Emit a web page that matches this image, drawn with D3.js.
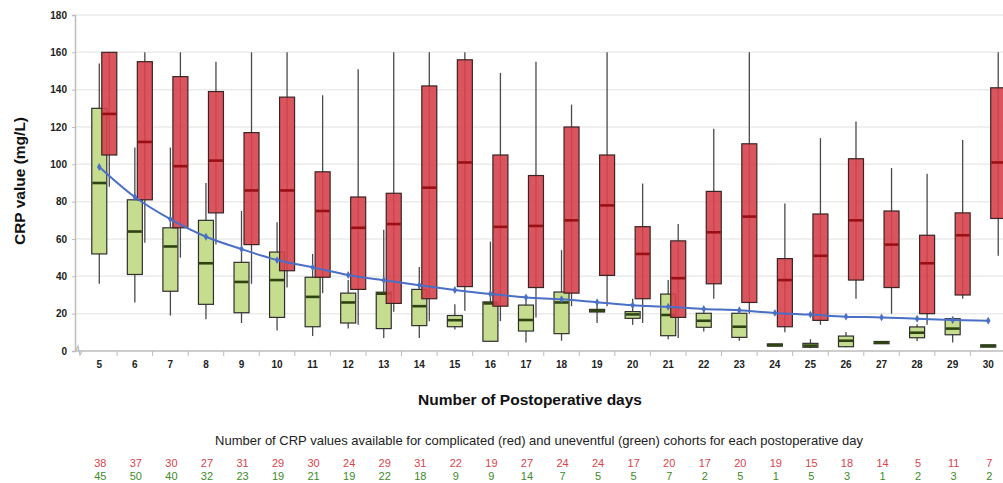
<!DOCTYPE html>
<html>
<head>
<meta charset="utf-8">
<script src="https://cdn.jsdelivr.net/npm/d3@7"></script>
<style>
  body { margin: 0; background: #fff; }
  svg { display: block; font-family: "Liberation Sans", Arial, sans-serif; }
</style>
</head>
<body>
<div id="chart"></div>
<script>
// postoperative days
var days = [5,6,7,8,9,10,11,12,13,14,15,16,17,18,19,20,21,22,23,24,25,26,27,28,29,30];

// uneventful cohort (green): [min, q1, median, q3, max]
var greenBoxes = [
    [36, 52, 90, 130, 154], [26, 41, 64, 81, 109], [19, 32, 56, 66, 109], [17, 25, 47, 70, 90],
    [15, 20.5, 37, 47.5, 75], [11, 18, 38, 53, 69], [8, 13, 29, 39.5, 52], [12, 15, 26, 31, 38],
    [7, 12, 30.7, 31.5, 65], [7, 13.6, 24, 33, 45], [11.5, 13, 16.5, 19, 25], [5, 5.2, 25.5, 26.3, 58.6],
    [4.5, 10.7, 16.6, 24.6, 30], [5.5, 9.3, 26, 31.6, 54], [15, 20.9, 21.6, 22.3, 27], [14, 17.5, 19.6, 21.1, 28],
    [6.3, 8.2, 19.3, 30.5, 38], [10.4, 12.7, 16.2, 20.2, 23], [5.5, 7.3, 13, 20.2, 22.5], [3.2, 2.6, 3.2, 3.8, 3.2],
    [1.5, 2, 2.9, 4.1, 6.3], [2, 2.3, 5.5, 8, 10.2], [4.5, 3.9, 4.5, 5.1, 4.5], [5.4, 7.1, 9.8, 12.9, 14.3],
    [4.5, 8.7, 12, 17.3, 18.4], [2.7, 2.1, 2.7, 3.3, 2.7]
];

// complicated cohort (red): [min, q1, median, q3, max]
var redBoxes = [
    [88, 105, 127, 160, 160], [58, 81, 112, 155, 160], [50, 66, 99, 147, 160], [57, 74, 102, 139, 155],
    [36, 57, 86, 117, 160], [34, 43, 86, 136, 160], [31, 39.5, 75, 96, 137], [14, 33, 66, 82.5, 151],
    [21, 25.5, 68, 84.5, 160], [16, 28, 87.5, 142, 160], [21.6, 34.5, 101, 156, 160], [16, 24, 66.5, 105, 149],
    [18, 34, 67, 94, 155], [24, 31, 70, 120, 132], [24, 40.5, 78, 105, 160], [15, 28, 52, 66.6, 89.7],
    [7, 18, 39, 59, 68], [28, 36, 63.6, 85.5, 119], [20, 26, 72, 111, 160], [10, 13, 38, 49.5, 79],
    [14, 16.4, 51, 73.4, 114], [28, 38, 70, 103, 123], [20, 34, 57, 75, 98], [14, 20, 47, 62, 95],
    [28, 30, 62, 74, 113], [51, 71, 101, 141, 160]
];

// fitted trend (blue)
var trend = [98.6, 82.5, 70.6, 61.2, 54.6, 48.7, 44.8, 40.7, 37.9, 35.2, 32.7, 30.5, 28.7, 27.7,
    26.1, 24.5, 23.7, 22.5, 21.8, 20.4, 19.5, 18.4, 18.0, 17.3, 16.6, 16.2];

// counts per day
var redCounts = [38,37,30,27,31,29,30,24,29,31,22,19,27,24,24,17,20,17,20,19,15,18,14,5,11,7];
var greenCounts = [45,50,40,32,23,19,21,19,22,18,9,9,14,7,5,5,7,2,5,1,5,3,1,2,3,2];

var yTicks = [0, 20, 40, 60, 80, 100, 120, 140, 160, 180];

var width = 1003, height = 483;

var svg = d3.select("#chart").append("svg")
    .attr("width", width)
    .attr("height", height);

var x = d3.scaleBand()
    .domain(days)
    .range([81.5, 1006])
    .padding(0);

var y = d3.scaleLinear()
    .domain([0, 180])
    .range([351, 15]);

var boxW = 15;
var redOffset = 10;

// gridlines
svg.append("g")
    .selectAll("line")
    .data(yTicks.filter(function(d) { return d > 0; }))
    .enter().append("line")
    .attr("x1", 76).attr("x2", width)
    .attr("y1", function(d) { return y(d); })
    .attr("y2", function(d) { return y(d); })
    .attr("stroke", "#ebebeb")
    .attr("stroke-width", 1.5);

// y axis
var yAxis = svg.append("g")
    .attr("transform", "translate(75,0)")
    .call(d3.axisLeft(y).tickValues(yTicks).tickSize(3).tickPadding(5));
yAxis.select(".domain").attr("stroke", "#bdbdbd").attr("stroke-width", 1.5);
yAxis.selectAll(".tick line").attr("stroke", "#bdbdbd");
yAxis.selectAll(".tick text")
    .attr("fill", "#222")
    .style("font-size", "10px")
    .style("font-weight", "bold");

// x axis
var xAxis = svg.append("g")
    .attr("transform", "translate(0,351)")
    .call(d3.axisBottom(x).tickSize(0).tickPadding(10));
xAxis.select(".domain").remove();
xAxis.selectAll(".tick text")
    .attr("fill", "#222")
    .style("font-size", "10px")
    .style("font-weight", "bold");

svg.append("line")
    .attr("x1", 75).attr("x2", width)
    .attr("y1", 351).attr("y2", 351)
    .attr("stroke", "#bdbdbd")
    .attr("stroke-width", 1.5);

// tick marks between categories
svg.append("g")
    .selectAll("line")
    .data(days)
    .enter().append("line")
    .attr("x1", function(d) { return x(d) + x.bandwidth(); })
    .attr("x2", function(d) { return x(d) + x.bandwidth(); })
    .attr("y1", 351).attr("y2", 356)
    .attr("stroke", "#bdbdbd");

// axis break mark
svg.append("path")
    .attr("d", "M76,351 L78,346 L80,355 L82,351")
    .attr("fill", "none")
    .attr("stroke", "#bdbdbd")
    .attr("stroke-width", 1.2);

function drawBoxes(data, offset, fill, stroke, medColor, opacity, cls) {
    var g = svg.append("g").attr("class", cls);
    var cx = function(i) { return x(days[i]) + x.bandwidth() / 2 + offset; };

    var grp = g.selectAll("g")
        .data(data)
        .enter().append("g");

    grp.append("line")
        .attr("x1", function(d, i) { return cx(i); })
        .attr("x2", function(d, i) { return cx(i); })
        .attr("y1", function(d) { return y(d[0]); })
        .attr("y2", function(d) { return y(d[4]); })
        .attr("stroke", "#4a4a4a")
        .attr("stroke-width", 1.3);

    grp.append("rect")
        .attr("x", function(d, i) { return cx(i) - boxW / 2; })
        .attr("width", boxW)
        .attr("y", function(d) { return y(d[3]); })
        .attr("height", function(d) { return Math.max(y(d[1]) - y(d[3]), 1); })
        .attr("fill", fill)
        .attr("fill-opacity", opacity)
        .attr("stroke", stroke)
        .attr("stroke-width", 1.2);

    grp.append("line")
        .attr("x1", function(d, i) { return cx(i) - boxW / 2 + 0.5; })
        .attr("x2", function(d, i) { return cx(i) + boxW / 2 - 0.5; })
        .attr("y1", function(d) { return y(d[2]); })
        .attr("y2", function(d) { return y(d[2]); })
        .attr("stroke", medColor)
        .attr("stroke-width", 2.6);
}

drawBoxes(greenBoxes, 0, "#c6dc8f", "#2f2f2f", "#2e4312", 1, "green");
drawBoxes(redBoxes, redOffset, "#d6434b", "#3b2424", "#9b0f14", 0.9, "red");

// trend line
var line = d3.line()
    .x(function(d, i) { return x(days[i]) + x.bandwidth() / 2; })
    .y(function(d) { return y(d); })
    .curve(d3.curveMonotoneX);

svg.append("path")
    .datum(trend)
    .attr("d", line)
    .attr("fill", "none")
    .attr("stroke", "#4a6fc6")
    .attr("stroke-width", 2);

svg.append("g")
    .selectAll("path")
    .data(trend)
    .enter().append("path")
    .attr("d", d3.symbol().type(d3.symbolDiamond).size(18))
    .attr("transform", function(d, i) {
        return "translate(" + (x(days[i]) + x.bandwidth() / 2) + "," + y(d) + ")";
    })
    .attr("fill", "#4a6fc6");

// axis titles
svg.append("text")
    .attr("transform", "translate(25,181) rotate(-90)")
    .attr("text-anchor", "middle")
    .style("font-size", "15.5px")
    .style("font-weight", "bold")
    .attr("fill", "#111")
    .text("CRP value (mg/L)");

svg.append("text")
    .attr("x", 530).attr("y", 405)
    .attr("text-anchor", "middle")
    .style("font-size", "15.5px")
    .style("font-weight", "bold")
    .attr("fill", "#111")
    .text("Number of Postoperative days");

svg.append("text")
    .attr("x", 539).attr("y", 445)
    .attr("text-anchor", "middle")
    .style("font-size", "13px")
    .attr("fill", "#222")
    .text("Number of CRP values available for complicated (red) and uneventful (green) cohorts for each postoperative day");

// counts
svg.append("g")
    .selectAll("text")
    .data(redCounts)
    .enter().append("text")
    .attr("x", function(d, i) { return x(days[i]) + x.bandwidth() / 2 + 1; })
    .attr("y", 467)
    .attr("text-anchor", "middle")
    .style("font-size", "11px")
    .attr("fill", "#d9434b")
    .text(function(d) { return d; });

svg.append("g")
    .selectAll("text")
    .data(greenCounts)
    .enter().append("text")
    .attr("x", function(d, i) { return x(days[i]) + x.bandwidth() / 2 + 1; })
    .attr("y", 480)
    .attr("text-anchor", "middle")
    .style("font-size", "11px")
    .attr("fill", "#3d8a1f")
    .text(function(d) { return d; });
</script>
</body>
</html>
